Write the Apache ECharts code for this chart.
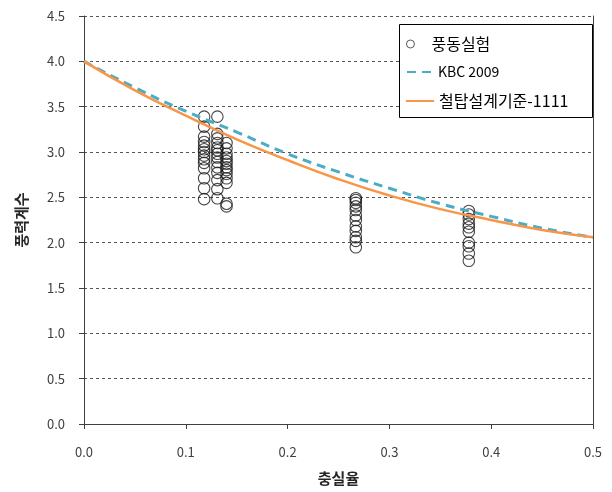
<!DOCTYPE html>
<html>
<head>
<meta charset="utf-8">
<script src="https://cdn.jsdelivr.net/npm/echarts@6/dist/echarts.min.js"></script>
<style>
  html, body { margin: 0; padding: 0; background: #fff; }
  #chart { width: 612px; height: 492px; }
</style>
</head>
<body>
<div id="chart"></div>
<script>
// Wind tunnel measurements: solidity ratio (x) and force coefficient (y)
const testX = [
  0.118, 0.118, 0.118, 0.118, 0.118, 0.118, 0.118, 0.118, 0.118, 0.118, 0.118, 0.118, 0.118, 0.118,
  0.131, 0.131, 0.131, 0.131, 0.131, 0.131, 0.131, 0.131, 0.131, 0.131, 0.131, 0.131, 0.131, 0.131,
  0.140, 0.140, 0.140, 0.140, 0.140, 0.140, 0.140, 0.140, 0.140, 0.140, 0.140, 0.140, 0.140,
  0.267, 0.267, 0.267, 0.267, 0.267, 0.267, 0.267, 0.267, 0.267, 0.267, 0.267, 0.267,
  0.378, 0.378, 0.378, 0.378, 0.378, 0.378, 0.378, 0.378, 0.378, 0.378
];
const testY = [
  3.39, 3.28, 3.17, 3.11, 3.07, 3.03, 3.00, 2.96, 2.92, 2.88, 2.82, 2.71, 2.60, 2.48,
  3.39, 3.20, 3.15, 3.10, 3.05, 3.02, 2.98, 2.94, 2.89, 2.83, 2.77, 2.69, 2.59, 2.49,
  3.10, 3.04, 2.98, 2.94, 2.90, 2.87, 2.83, 2.80, 2.76, 2.71, 2.66, 2.43, 2.40,
  2.49, 2.47, 2.44, 2.40, 2.36, 2.30, 2.25, 2.18, 2.13, 2.06, 2.02, 1.95,
  2.35, 2.31, 2.26, 2.21, 2.17, 2.12, 2.00, 1.96, 1.88, 1.80
];

// Design curves sampled along the solidity ratio
const curveX = [0.00, 0.05, 0.10, 0.15, 0.20, 0.25, 0.30, 0.35, 0.40, 0.45, 0.50];
const kbcY   = [4.00, 3.71, 3.45, 3.22, 2.98, 2.78, 2.60, 2.43, 2.29, 2.16, 2.06];
const towerY = [4.00, 3.68, 3.40, 3.14, 2.91, 2.70, 2.52, 2.37, 2.25, 2.14, 2.06];

// Axis ticks
const xTicks = [0.0, 0.1, 0.2, 0.3, 0.4, 0.5];
const yTicks = [0.0, 0.5, 1.0, 1.5, 2.0, 2.5, 3.0, 3.5, 4.0, 4.5];

const seriesNames = ['풍동실험', 'KBC 2009', '철탑설계기준-1111'];

const zip = (xs, ys) => xs.map((x, i) => [x, ys[i]]);

const FONT = '"Noto Sans CJK KR", "Noto Sans", sans-serif';
const AXIS_COLOR = '#404040';

const chart = echarts.init(document.getElementById('chart'), null, { renderer: 'canvas' });

const legendBase = {
  orient: 'horizontal',
  selectedMode: false,
  padding: 0,
  itemHeight: 10
};

chart.setOption({
  backgroundColor: '#ffffff',
  animation: false,
  textStyle: { fontFamily: FONT },
  grid: { left: 84, right: 19, top: 16, bottom: 68, containLabel: false },
  xAxis: {
    type: 'value',
    min: xTicks[0],
    max: xTicks[xTicks.length - 1],
    interval: 0.1,
    name: '충실율',
    nameLocation: 'middle',
    nameGap: 47,
    nameTextStyle: { fontSize: 15, fontWeight: 'bold', color: '#262626', fontFamily: FONT },
    axisLine: { show: true, lineStyle: { color: AXIS_COLOR, width: 1 } },
    axisTick: { show: true, length: 5, lineStyle: { color: AXIS_COLOR } },
    axisLabel: {
      margin: 22, fontSize: 13, color: AXIS_COLOR, fontFamily: FONT,
      formatter: v => v.toFixed(1)
    },
    splitLine: { show: false }
  },
  yAxis: [
    {
      type: 'value',
      min: yTicks[0],
      max: yTicks[yTicks.length - 1],
      interval: 0.5,
      name: '풍력계수',
      nameLocation: 'middle',
      nameGap: 55,
      nameRotate: 90,
      nameTextStyle: { fontSize: 15, fontWeight: 'bold', color: '#262626', fontFamily: FONT },
      axisLine: { show: true, lineStyle: { color: AXIS_COLOR, width: 1 } },
      axisTick: { show: true, length: 5, lineStyle: { color: AXIS_COLOR } },
      axisLabel: {
        margin: 19, fontSize: 13, color: AXIS_COLOR, fontFamily: FONT,
        formatter: v => v.toFixed(1)
      },
      splitLine: { show: true, lineStyle: { color: '#555555', width: 1, type: [3, 3] } }
    },
    {
      // plain right-hand frame edge
      type: 'value',
      position: 'right',
      min: yTicks[0],
      max: yTicks[yTicks.length - 1],
      interval: 0.5,
      axisLine: { show: true, lineStyle: { color: AXIS_COLOR, width: 1 } },
      axisTick: { show: false },
      axisLabel: { show: false },
      splitLine: { show: false }
    }
  ],
  graphic: [
    {
      type: 'rect',
      shape: { x: 399.5, y: 24.5, width: 193, height: 93 },
      style: { fill: '#ffffff', stroke: '#000000', lineWidth: 1 },
      z: 3
    }
  ],
  legend: [
    Object.assign({}, legendBase, {
      data: [seriesNames[0]],
      left: 406, top: 36,
      itemWidth: 24,
      itemHeight: 8,
      itemStyle: { borderWidth: 0.9 },
      textStyle: { fontSize: 16, color: '#000', fontFamily: FONT, padding: [0, 0, 0, 4] },
      z: 5
    }),
    Object.assign({}, legendBase, {
      data: [seriesNames[1]],
      left: 406, top: 65,
      itemWidth: 24,
      itemStyle: { opacity: 0 },
      textStyle: { fontSize: 14, color: '#000', fontFamily: FONT, padding: [0, 0, 0, 2] },
      z: 5
    }),
    Object.assign({}, legendBase, {
      data: [seriesNames[2]],
      left: 405, top: 93,
      itemWidth: 28,
      itemStyle: { opacity: 0 },
      textStyle: { fontSize: 16, color: '#000', fontFamily: FONT },
      z: 5
    })
  ],
  series: [
    {
      name: seriesNames[0],
      type: 'scatter',
      data: zip(testX, testY),
      symbol: 'circle',
      symbolSize: 11.5,
      itemStyle: { color: 'rgba(0,0,0,0)', borderColor: '#1a1a1a', borderWidth: 1.1 },
      z: 2
    },
    {
      name: seriesNames[1],
      type: 'line',
      data: zip(curveX, kbcY),
      smooth: true,
      symbol: 'none',
      lineStyle: { color: '#4bacc6', width: 3, type: [9, 6] },
      itemStyle: { color: '#4bacc6' },
      z: 3
    },
    {
      name: seriesNames[2],
      type: 'line',
      data: zip(curveX, towerY),
      smooth: true,
      symbol: 'none',
      lineStyle: { color: '#f79646', width: 2.5 },
      itemStyle: { color: '#f79646' },
      z: 4
    }
  ]
});
</script>
</body>
</html>
